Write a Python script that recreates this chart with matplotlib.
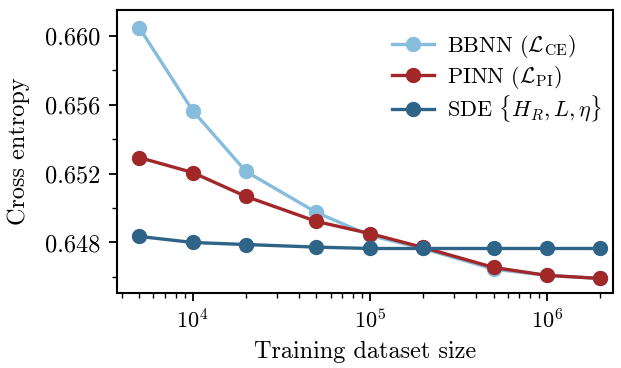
import matplotlib
matplotlib.use("Agg")
import matplotlib.pyplot as plt
from matplotlib.ticker import FormatStrFormatter

plt.rcParams["font.family"] = "serif"
plt.rcParams["font.serif"] = ["cmr10"]
plt.rcParams["mathtext.fontset"] = "cm"
plt.rcParams["axes.formatter.use_mathtext"] = True

sizes = [5e3, 1e4, 2e4, 5e4, 1e5, 2e5, 5e5, 1e6, 2e6]
bbnn = [0.66046, 0.65565, 0.65212, 0.64974, 0.64841, 0.64765, 0.64645, 0.64609, 0.64591]
pinn = [0.65293, 0.65206, 0.65067, 0.64922, 0.64852, 0.64771, 0.64655, 0.64609, 0.64591]
sde = [0.64835, 0.64800, 0.64788, 0.64773, 0.64765, 0.64765, 0.64765, 0.64765, 0.64765]
yticks = [0.648, 0.652, 0.656, 0.660]
yticks_minor = [0.646, 0.650, 0.654, 0.658]

C_LIGHT = "#86bcdc"
C_RED = "#a12729"
C_DARK = "#2f6489"

fig = plt.figure(figsize=(6.21, 3.68), dpi=100)
ax = fig.add_axes([0.188, 0.204, 0.799, 0.769])

kw = dict(marker="o", markersize=10, linewidth=2.4)
ax.plot(sizes, bbnn, color=C_LIGHT, label=r"BBNN ($\mathcal{L}_{\rm CE}$)", **kw)
ax.plot(sizes, pinn, color=C_RED, label=r"PINN ($\mathcal{L}_{\rm PI}$)", **kw)
ax.plot(sizes, sde, color=C_DARK, label=r"SDE $\{H_R, L, \eta\}$", **kw)

ax.set_xscale("log")
ax.set_xlim(3725, 2.36e6)
ax.set_ylim(0.64507, 0.6615)
ax.set_yticks(yticks)
ax.set_yticks(yticks_minor, minor=True)
ax.yaxis.set_major_formatter(FormatStrFormatter("%.3f"))

ax.set_xlabel("Training dataset size", fontsize=17.5, labelpad=6)
ax.set_ylabel("Cross entropy", fontsize=17.5, labelpad=10.5)
ax.tick_params(axis="y", labelsize=17.5, pad=6)
ax.tick_params(axis="x", labelsize=16, pad=5)
ax.tick_params(which="major", width=1.3, length=6)
ax.tick_params(which="minor", width=1.0, length=3.5)
for spine in ax.spines.values():
    spine.set_linewidth(1.5)

ax.legend(loc="upper right", bbox_to_anchor=(0.996, 0.949), frameon=False,
          fontsize=16, handlelength=1.85, borderaxespad=0.0, borderpad=0.4,
          labelspacing=0.15, handletextpad=0.6)

fig.savefig("out.png", dpi=100)
